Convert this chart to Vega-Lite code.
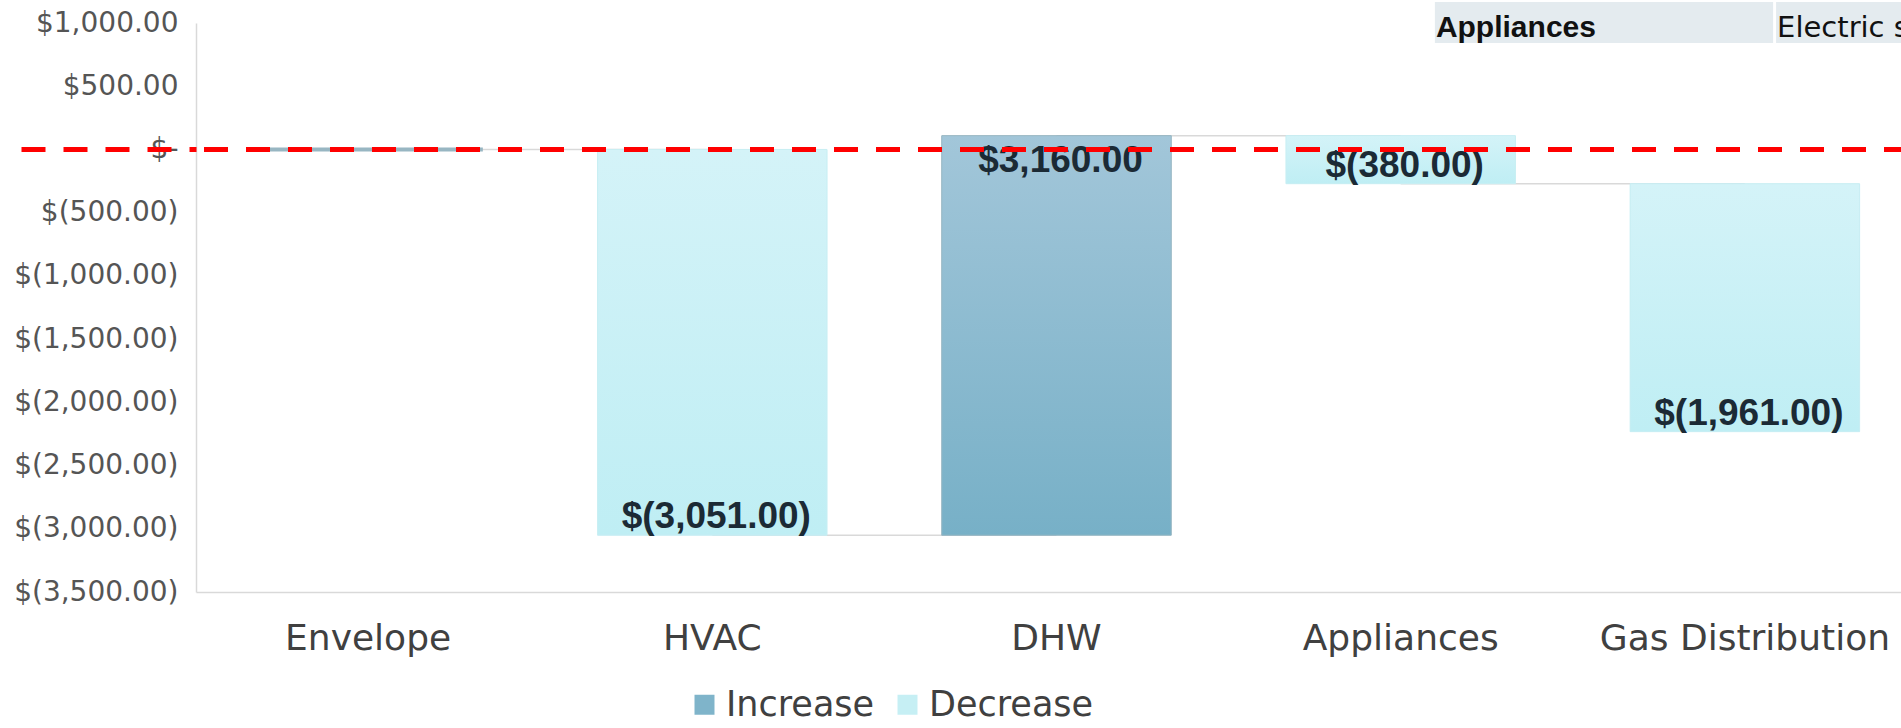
{
  "$schema": "https://vega.github.io/schema/vega-lite/v6.json",
  "usermeta": {"embedOptions": {"actions": false}},
  "autosize": {"type": "none"},
  "width": 1705,
  "height": 569,
  "padding": {"left": 196, "top": 23, "right": 0, "bottom": 136},
  "background": "white",
  "config": {"view": {"stroke": null}},
  "data": {
    "values": [
      {"step": "Envelope", "start": 0, "end": 0, "type": "Increase", "label": ""},
      {"step": "HVAC", "start": 0, "end": -3051, "type": "Decrease", "label": "$(3,051.00)"},
      {"step": "DHW", "start": -3051, "end": 109, "type": "Increase", "label": "$3,160.00"},
      {"step": "Appliances", "start": 109, "end": -271, "type": "Decrease", "label": "$(380.00)"},
      {"step": "Gas Distribution", "start": -271, "end": -2232, "type": "Decrease", "label": "$(1,961.00)"}
    ]
  },
  "transform": [{"window": [{"op": "lead", "field": "step", "as": "next"}]}],
  "layer": [
    {
      "transform": [{"filter": "datum.next != null"}],
      "mark": {"type": "rule", "color": "#d9d9d9", "strokeWidth": 1.5},
      "encoding": {
        "x": {"field": "step", "type": "nominal", "sort": null,
              "scale": {"domain": ["Envelope", "HVAC", "DHW", "Appliances", "Gas Distribution"], "range": [0, 1721], "paddingInner": 0.3333, "paddingOuter": 0.1667},
              "axis": {"title": null, "labelAngle": 0, "labelFont": "DejaVu Sans", "labelFontSize": 36, "labelColor": "#404040", "labelPadding": 29, "ticks": false, "domainColor": "#d9d9d9", "domainWidth": 1.5, "labelOverlap": false, "labelLimit": 600}},
        "x2": {"field": "next"},
        "y": {"field": "end", "type": "quantitative", "scale": {"domain": [-3500, 1000], "nice": false, "zero": false},
              "axis": {"title": null, "values": [-3500, -3000, -2500, -2000, -1500, -1000, -500, 0, 500, 1000],
                       "labelExpr": "datum.value == 0 ? '$-' : (datum.value > 0 ? '$' + format(datum.value, ',.2f') : '$(' + format(-datum.value, ',.2f') + ')')",
                       "labelFont": "DejaVu Sans", "labelFontSize": 28, "labelColor": "#555555", "labelPadding": 18,
                       "ticks": false, "grid": false, "domain": true, "domainColor": "#d9d9d9", "domainWidth": 1.5, "labelOverlap": false}}
      }
    },
    {
      "mark": {"type": "bar"},
      "encoding": {
        "x": {"field": "step", "type": "nominal", "sort": null},
        "y": {"field": "start", "type": "quantitative", "axis": null},
        "y2": {"field": "end"},
        "color": {"field": "type", "type": "nominal",
                  "scale": {"domain": ["Increase", "Decrease"], "range": ["#7fb4ca", "#c6eff4"]},
                  "legend": {"orient": "none", "legendX": 491, "legendY": 664, "direction": "horizontal", "title": null,
                             "symbolType": "square", "symbolSize": 400, "symbolStrokeWidth": 0, "symbolOpacity": 1,
                             "labelFont": "DejaVu Sans", "labelFontSize": 35, "labelColor": "#404040", "labelOffset": 4,
                             "columnPadding": 15, "labelLimit": 400}}
      }
    },
    {
      "transform": [{"filter": "datum.type === 'Increase'"}],
      "mark": {"type": "bar", "stroke": "#98b6c2",
               "fill": {"gradient": "linear", "x1": 0, "y1": 0, "x2": 0, "y2": 1,
                        "stops": [{"offset": 0, "color": "#a2c6d9"}, {"offset": 1, "color": "#77b0c7"}]}},
      "encoding": {
        "x": {"field": "step", "type": "nominal", "sort": null},
        "y": {"field": "start", "type": "quantitative", "axis": null},
        "y2": {"field": "end"},
        "strokeWidth": {"condition": {"test": "datum.start === datum.end", "value": 4}, "value": 1}
      }
    },
    {
      "transform": [{"filter": "datum.type === 'Decrease'"}],
      "mark": {"type": "bar", "stroke": "#c8eef3", "strokeWidth": 1,
               "fill": {"gradient": "linear", "x1": 0, "y1": 0, "x2": 0, "y2": 1,
                        "stops": [{"offset": 0, "color": "#d4f3f8"}, {"offset": 1, "color": "#bfeef4"}]}},
      "encoding": {
        "x": {"field": "step", "type": "nominal", "sort": null},
        "y": {"field": "start", "type": "quantitative", "axis": null},
        "y2": {"field": "end"}
      }
    },
    {
      "transform": [{"filter": "datum.end < datum.start"}],
      "mark": {"type": "text", "font": "Liberation Sans", "fontWeight": "bold", "fontSize": 37, "color": "#1b2a35",
               "baseline": "alphabetic", "align": "center", "dy": -7, "dx": 4},
      "encoding": {
        "x": {"field": "step", "type": "nominal", "sort": null},
        "y": {"field": "end", "type": "quantitative", "axis": null},
        "text": {"field": "label"}
      }
    },
    {
      "transform": [{"filter": "datum.end > datum.start"}],
      "mark": {"type": "text", "font": "Liberation Sans", "fontWeight": "bold", "fontSize": 37, "color": "#1b2a35",
               "baseline": "alphabetic", "align": "center", "dy": 36, "dx": 4},
      "encoding": {
        "x": {"field": "step", "type": "nominal", "sort": null},
        "y": {"field": "end", "type": "quantitative", "axis": null},
        "text": {"field": "label"}
      }
    },
    {
      "data": {"values": [{"label": "Appliances"}]},
      "layer": [
        {
          "mark": {"type": "rect", "color": "#e4ebef"},
          "encoding": {
            "x": {"datum": "Appliances", "type": "nominal", "bandPosition": 0.649},
            "x2": {"datum": "Gas Distribution", "bandPosition": 0.623},
            "y": {"datum": 1166, "type": "quantitative", "axis": null},
            "y2": {"datum": 842}
          }
        },
        {
          "mark": {"type": "text", "font": "Liberation Sans", "fontWeight": "bold", "fontSize": 30, "color": "#111111",
                   "align": "left", "baseline": "alphabetic", "dx": 1},
          "encoding": {
            "x": {"datum": "Appliances", "type": "nominal", "bandPosition": 0.649},
            "y": {"datum": 889, "type": "quantitative", "axis": null},
            "text": {"field": "label"}
          }
        }
      ]
    },
    {
      "data": {"values": [{"label": "Electric st"}]},
      "layer": [
        {
          "mark": {"type": "rect", "color": "#e4ebef"},
          "encoding": {
            "x": {"datum": "Gas Distribution", "type": "nominal", "bandPosition": 0.636},
            "x2": {"datum": "Gas Distribution", "bandPosition": 1.3},
            "y": {"datum": 1166, "type": "quantitative", "axis": null},
            "y2": {"datum": 842}
          }
        },
        {
          "mark": {"type": "text", "font": "DejaVu Sans", "fontSize": 29, "color": "#111111",
                   "align": "left", "baseline": "alphabetic", "dx": 1},
          "encoding": {
            "x": {"datum": "Gas Distribution", "type": "nominal", "bandPosition": 0.636},
            "y": {"datum": 889, "type": "quantitative", "axis": null},
            "text": {"field": "label"}
          }
        }
      ]
    },
    {
      "data": {"values": [{"v": 0}]},
      "mark": {"type": "rule", "color": "#ff0000", "strokeWidth": 5, "strokeDash": [24, 18], "strokeDashOffset": 7},
      "encoding": {
        "y": {"field": "v", "type": "quantitative",
              "axis": {"orient": "left", "title": null, "values": [0], "labels": false, "domain": false, "grid": false,
                       "ticks": true, "tickSize": 175, "tickColor": "#ff0000", "tickWidth": 5, "tickDash": [24, 18],
                       "tickDashOffset": 17, "zindex": 2}}
      }
    }
  ],
  "resolve": {"axis": {"y": "independent"}}
}
